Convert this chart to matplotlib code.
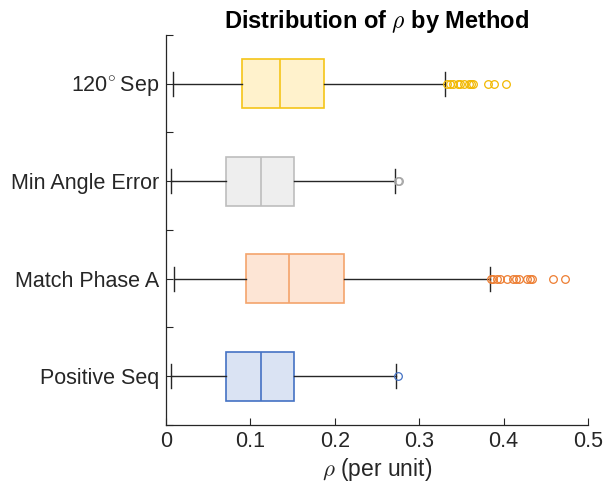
import matplotlib
matplotlib.use('Agg')
import matplotlib.pyplot as plt

plt.rcParams['font.family'] = ['Liberation Sans', 'DejaVu Sans']
plt.rcParams['mathtext.fontset'] = 'cm'

# methods listed bottom to top
methods = ['Positive Seq', 'Match Phase A', 'Min Angle Error', '120$^{\\circ}\\,$Sep']
whislo = [0.0057, 0.0092, 0.0060, 0.0083]
q1 = [0.0710, 0.0943, 0.0705, 0.0898]
med = [0.1120, 0.1458, 0.1120, 0.1353]
q3 = [0.1520, 0.2111, 0.1517, 0.1875]
whishi = [0.2720, 0.3833, 0.2718, 0.3310]
fliers = [
    [0.2745],
    [0.3849, 0.3880, 0.3920, 0.3960, 0.4039, 0.4110, 0.4141, 0.4177,
     0.4276, 0.4307, 0.4335, 0.4588, 0.4731],
    [0.2745, 0.2760],
    [0.3334, 0.3366, 0.3406, 0.3457, 0.3485, 0.3532, 0.3584, 0.3612,
     0.3636, 0.3820, 0.3890, 0.4030],
]
edge_colors = ['#4472C4', '#F4A46C', '#BDBDBD', '#F5C518']
fill_colors = ['#DAE3F3', '#FDE5D5', '#EEEEEE', '#FFF2CC']
flier_colors = ['#4472C4', '#ED7D31', '#A6A6A6', '#F2B800']

dark = '#262626'

fig = plt.figure(figsize=(6.11, 4.9), dpi=100)
ax = fig.add_axes([0.2717, 0.1327, 0.6907, 0.7959])

for i in range(len(methods)):
    st = dict(med=med[i], q1=q1[i], q3=q3[i], whislo=whislo[i],
              whishi=whishi[i], fliers=fliers[i], label=methods[i])
    ax.bxp([st], positions=[i + 1], vert=False, widths=0.5,
           patch_artist=True, showfliers=True,
           boxprops=dict(facecolor=fill_colors[i], edgecolor=edge_colors[i], linewidth=1.2),
           medianprops=dict(color=edge_colors[i], linewidth=1.2),
           whiskerprops=dict(color=dark, linewidth=1.0),
           capprops=dict(color=dark, linewidth=1.0),
           capwidths=0.25,
           flierprops=dict(marker='o', markerfacecolor='none',
                           markeredgecolor=flier_colors[i], markersize=5.5,
                           markeredgewidth=0.9))

ax.set_xlim(0, 0.5)
ax.set_ylim(0.5, 4.5)
ax.set_xticks([0, 0.1, 0.2, 0.3, 0.4, 0.5])
ax.set_xticklabels(['0', '0.1', '0.2', '0.3', '0.4', '0.5'])
ax.set_yticks([1, 2, 3, 4])
ax.set_yticklabels(methods)
ax.set_yticks([0.5, 1.5, 2.5, 3.5, 4.5], minor=True)
ax.tick_params(axis='both', which='both', direction='in', colors=dark,
               labelsize=15.5, length=5, width=0.8, pad=4)
ax.tick_params(axis='y', which='major', pad=5)

for side in ['top', 'right']:
    ax.spines[side].set_visible(False)
for side in ['left', 'bottom']:
    ax.spines[side].set_color(dark)
    ax.spines[side].set_linewidth(0.9)

ax.set_xlabel('$\\rho$ (per unit)', fontsize=16.5, color=dark, labelpad=3)
ax.set_title('Distribution of $\\rho$ by Method', fontsize=17, fontweight='bold', pad=5)

fig.savefig('out.png', dpi=100)
